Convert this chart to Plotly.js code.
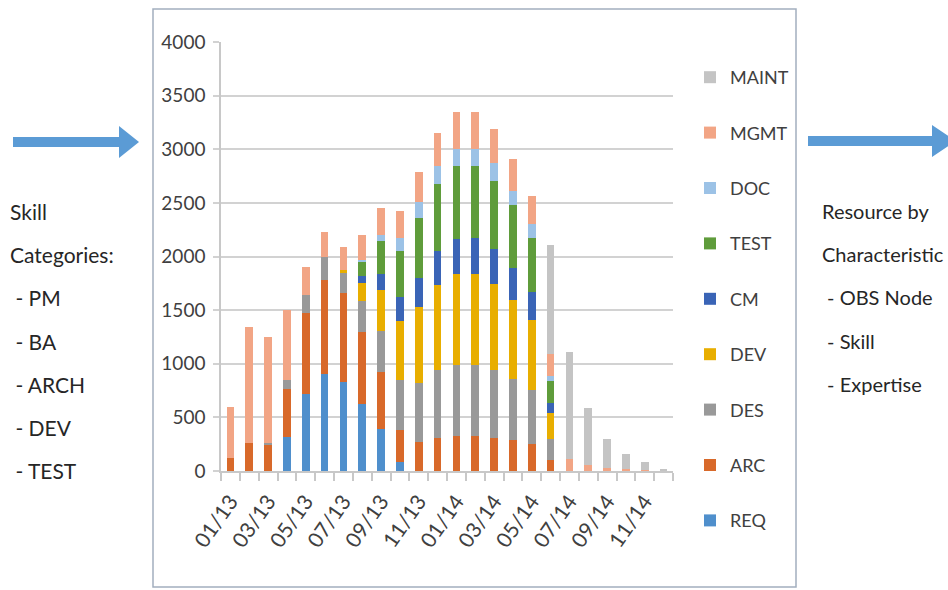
<!DOCTYPE html>
<html>
<head>
<meta charset="utf-8">
<script src="https://cdn.plot.ly/plotly-3.0.1.min.js"></script>
<style>
  html, body { margin: 0; padding: 0; background: #fff; }
  #chart { width: 948px; height: 590px; }
</style>
</head>
<body>
<div id="chart"></div>
<script>
var months = ['01/13', '02/13', '03/13', '04/13', '05/13', '06/13', '07/13', '08/13', '09/13', '10/13', '11/13', '12/13',
              '01/14', '02/14', '03/14', '04/14', '05/14', '06/14', '07/14', '08/14', '09/14', '10/14', '11/14', '12/14'];
var tickLabels = ['01/13', '03/13', '05/13', '07/13', '09/13', '11/13', '01/14', '03/14', '05/14', '07/14', '09/14', '11/14'];

var req   = [0, 0, 0, 320, 720, 900, 830, 625, 395, 80, 0, 0, 0, 0, 0, 0, 0, 0, 0, 0, 0, 0, 0, 0];
var arc   = [125, 260, 250, 445, 750, 880, 830, 675, 530, 300, 270, 310, 325, 325, 310, 285, 255, 100, 0, 0, 0, 0, 0, 0];
var des   = [0, 0, 10, 85, 175, 220, 195, 285, 385, 470, 555, 635, 665, 665, 635, 575, 500, 195, 0, 0, 0, 0, 0, 0];
var dev   = [0, 0, 0, 0, 0, 0, 15, 165, 380, 545, 705, 785, 850, 850, 800, 730, 650, 245, 0, 0, 0, 0, 0, 0];
var cm    = [0, 0, 0, 0, 0, 0, 0, 65, 150, 225, 270, 320, 325, 335, 325, 300, 260, 95, 0, 0, 0, 0, 0, 0];
var test  = [0, 0, 0, 0, 0, 0, 0, 135, 300, 435, 560, 625, 680, 670, 635, 590, 505, 205, 0, 0, 0, 0, 0, 0];
var doc   = [0, 0, 0, 0, 0, 0, 0, 15, 60, 115, 145, 165, 155, 155, 165, 135, 130, 50, 0, 0, 0, 0, 0, 0];
var mgmt  = [475, 1080, 990, 650, 255, 230, 220, 235, 250, 255, 280, 310, 350, 350, 315, 295, 260, 205, 110, 55, 30, 20, 5, 0];
var maint = [0, 0, 0, 0, 0, 0, 0, 0, 0, 0, 0, 0, 0, 0, 0, 0, 0, 1015, 1000, 530, 265, 140, 75, 15];

var seriesNames = ['REQ', 'ARC', 'DES', 'DEV', 'CM', 'TEST', 'DOC', 'MGMT', 'MAINT'];
var seriesValues = [req, arc, des, dev, cm, test, doc, mgmt, maint];
var seriesColors = ['#4f8fcc', '#d8692a', '#999999', '#e8ae00', '#3a64b6', '#5f9c3b', '#9cc2e6', '#f2a585', '#c4c4c4'];

var FONT = 'Lato, "Open Sans", sans-serif';

// plot area in pixels, used to place the decorations around it
var L = 221, T = 42, W = 452, H = 429;
function px(x) { return (x - L) / W; }
function py(y) { return (T + H - y) / H; }

var data = seriesNames.map(function (name, i) {
    return {
        x: months,
        y: seriesValues[i],
        name: name,
        type: 'bar',
        legendgroup: name,
        legendrank: seriesNames.length - i,   // top of the stack first in the legend
        marker: { color: seriesColors[i] },
        hoverinfo: 'x+y+name'
    };
});

function sideText(text, x, y, size) {
    return {
        text: text, xref: 'paper', yref: 'paper', x: px(x), y: py(y),
        xanchor: 'left', yanchor: 'middle', showarrow: false,
        font: { family: FONT, size: size || 21, color: '#262626' }
    };
}

var annotations = [
    sideText('Skill', 8, 211),
    sideText('Categories:', 8, 254),
    sideText(' - PM', 8, 297),
    sideText(' - BA', 8, 341),
    sideText(' - ARCH', 8, 384),
    sideText(' - DEV', 8, 427),
    sideText(' - TEST', 8, 470),
    sideText('Resource by', 820, 211, 20),
    sideText('Characteristic', 820, 254, 20),
    sideText(' - OBS Node', 820, 297, 20),
    sideText(' - Skill', 820, 341, 20),
    sideText(' - Expertise', 820, 384, 20)
];

function arrowPath(x0, xb, xt, yc) {
    return 'M' + px(x0) + ',' + py(yc - 5) +
           ' L' + px(xb) + ',' + py(yc - 5) +
           ' L' + px(xb) + ',' + py(yc - 16) +
           ' L' + px(xt) + ',' + py(yc) +
           ' L' + px(xb) + ',' + py(yc + 16) +
           ' L' + px(xb) + ',' + py(yc + 5) +
           ' L' + px(x0) + ',' + py(yc + 5) + ' Z';
}

var shapes = [
    {
        type: 'rect', xref: 'paper', yref: 'paper',
        x0: px(153), x1: px(796), y0: py(587), y1: py(9),
        line: { color: '#a2afbf', width: 1.5 }, fillcolor: 'rgba(0,0,0,0)', layer: 'below'
    },
    { type: 'path', xref: 'paper', yref: 'paper', path: arrowPath(13, 119, 139, 142), fillcolor: '#5b9bd5', line: { width: 0 } },
    { type: 'path', xref: 'paper', yref: 'paper', path: arrowPath(808, 932, 956, 141), fillcolor: '#5b9bd5', line: { width: 0 } }
];

var layout = {
    width: 948,
    height: 590,
    margin: { l: L, r: 948 - L - W, t: T, b: 590 - T - H },
    paper_bgcolor: '#ffffff',
    plot_bgcolor: '#ffffff',
    barmode: 'stack',
    bargap: 0.6,
    font: { family: FONT, color: '#595959' },
    xaxis: {
        type: 'category',
        tickmode: 'array',
        tickvals: months,
        ticktext: months.map(function (m) { return tickLabels.indexOf(m) >= 0 ? m : ''; }),
        tickson: 'boundaries',
        ticks: 'outside',
        ticklen: 8,
        tickwidth: 1.5,
        tickcolor: '#c8c8c8',
        tickangle: -55,
        ticklabelstandoff: 8,
        tickfont: { family: FONT, size: 21, color: '#404040' },
        showline: true,
        linecolor: '#c8c8c8',
        linewidth: 1.5,
        showgrid: false,
        range: [-0.5, 23.5]
    },
    yaxis: {
        range: [0, 4000],
        dtick: 500,
        tick0: 0,
        showgrid: true,
        gridcolor: '#d2d2d2',
        gridwidth: 2,
        zeroline: false,
        showline: true,
        linecolor: '#c8c8c8',
        linewidth: 1.5,
        ticks: 'outside',
        ticklen: 6,
        tickwidth: 2,
        tickcolor: '#d2d2d2',
        ticklabelstandoff: 4,
        tickfont: { family: FONT, size: 19, color: '#404040' }
    },
    showlegend: true,
    legend: {
        x: px(690),
        y: py(59),
        xanchor: 'left',
        yanchor: 'top',
        traceorder: 'grouped',
        tracegroupgap: 29,
        itemwidth: 30,
        maxheight: 580,
        font: { family: FONT, size: 18, color: '#404040' },
        bgcolor: 'rgba(0,0,0,0)'
    },
    shapes: shapes,
    annotations: annotations
};

Plotly.newPlot('chart', data, layout, { responsive: false, displayModeBar: false });
</script>
</body>
</html>
